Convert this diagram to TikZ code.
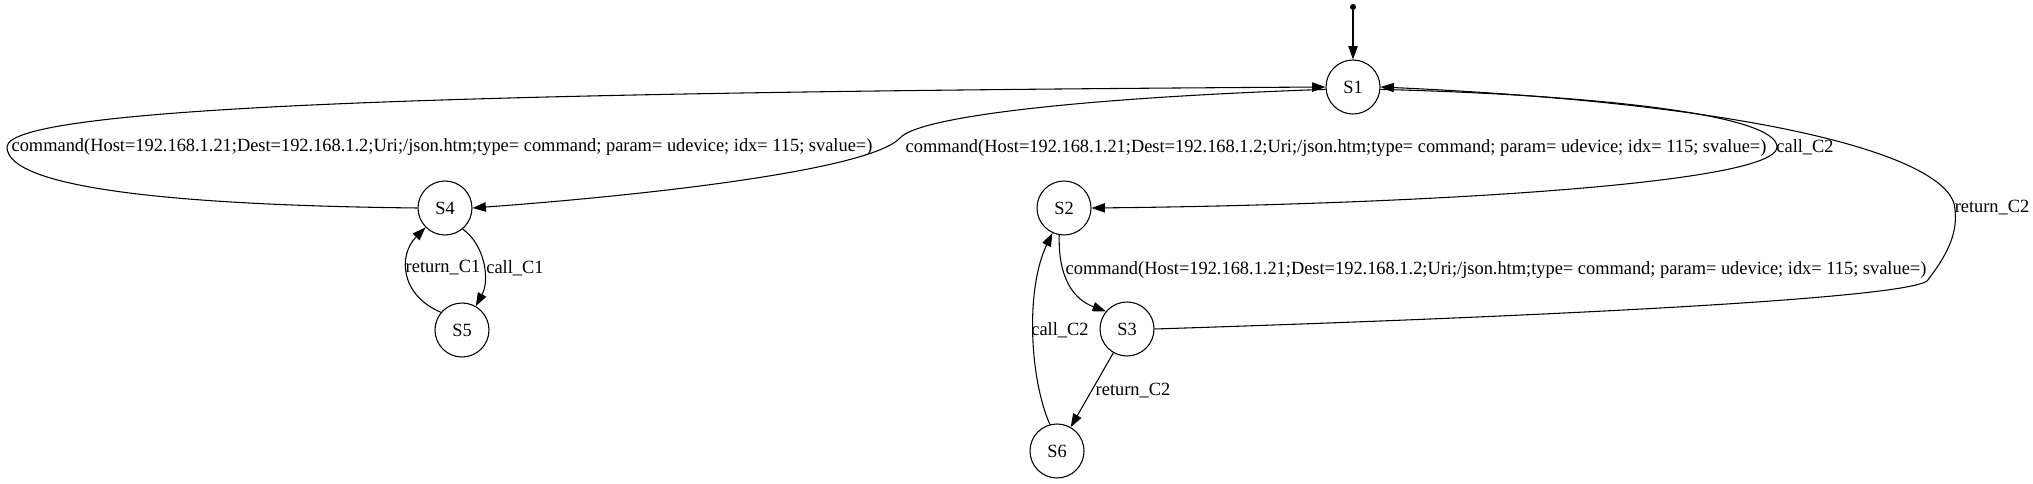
\documentclass[tikz,border=0pt]{standalone}
\usepackage{fontspec}
\setmainfont{Liberation Serif}[FakeStretch=0.985]
\usetikzlibrary{arrows.meta}

\begin{document}
\begin{tikzpicture}[x=0.75pt, y=-0.75pt,
  state/.style={circle, draw=black, line width=0.8pt, minimum size=40.5pt, inner sep=0pt, font=\fontsize{14}{16}\selectfont},
  initial/.style={circle, fill=black, inner sep=0pt, minimum size=4.5pt},
  lbl/.style={inner sep=0pt, font=\fontsize{14}{16}\selectfont},
  arrow/.style={line width=0.8pt, -{Triangle[length=10pt, width=7pt]}}]

  \useasboundingbox (0,0) rectangle (2033,484);

  % Nodes
  \node (start) [initial] at (1353,7) {};
  \node (S1) [state] at (1353,87) {S1};
  \node (S4) [state] at (445,208) {S4};
  \node (S5) [state] at (462,330) {S5};
  \node (S2) [state] at (1064,208) {S2};
  \node (S3) [state] at (1127,329) {S3};
  \node (S6) [state] at (1057,451) {S6};

  % Labels
  \node (cmdA) [lbl] at (442,147) {command(Host=192.168.1.21;Dest=192.168.1.2;Uri;/json.htm;type= command; param= udevice; idx= 115; svalue=)};
  \node (cmdB) [lbl] at (1336,148) {command(Host=192.168.1.21;Dest=192.168.1.2;Uri;/json.htm;type= command; param= udevice; idx= 115; svalue=)};
  \node (cmdC) [lbl] at (1496,270) {command(Host=192.168.1.21;Dest=192.168.1.2;Uri;/json.htm;type= command; param= udevice; idx= 115; svalue=)};
  \node (callA) [lbl] at (1805,147) {call\_C2};
  \node (retA) [lbl] at (1992,208) {return\_C2};
  \node (retB) [lbl] at (1133,391) {return\_C2};
  \node (callB) [lbl] at (1060,330) {call\_C2};
  \node (callC) [lbl] at (515,268) {call\_C1};
  \node (retC) [lbl] at (443,268) {return\_C1};

  % Arrows
  \draw [arrow] (start) -- (S1);
  \draw [arrow] (S4.west) .. controls (150,205) and (7,185) .. (7,147)
    .. controls (7,105) and (500,92) .. (S1.west);
  \draw [arrow] (S1.185) .. controls (1100,97) and (920,115) .. (900,138)
    .. controls (870,170) and (650,195) .. (S4.east);
  \draw [arrow] (S1.-5) .. controls (1600,95) and (1777,115) .. (1777,147)
    .. controls (1777,185) and (1400,205) .. (S2.east);
  \draw [arrow] (S3.east) .. controls (1500,318) and (1900,300) .. (1927,281)
    .. controls (1945,258) and (1958,235) .. (1955,210)
    .. controls (1955,160) and (1780,105) .. (S1.east);
  \draw [arrow] (S2.-100) .. controls (1058,280) and (1075,300) .. (S3.140);
  \draw [arrow] (S3) -- (S6);
  \draw [arrow] (S6.105) .. controls (1030,380) and (1025,290) .. (S2.245);
  \draw [arrow] (S4.-50) .. controls (485,245) and (490,280) .. (S5.60);
  \draw [arrow] (S5.140) .. controls (400,295) and (398,255) .. (S4.-135);

\end{tikzpicture}
\end{document}
